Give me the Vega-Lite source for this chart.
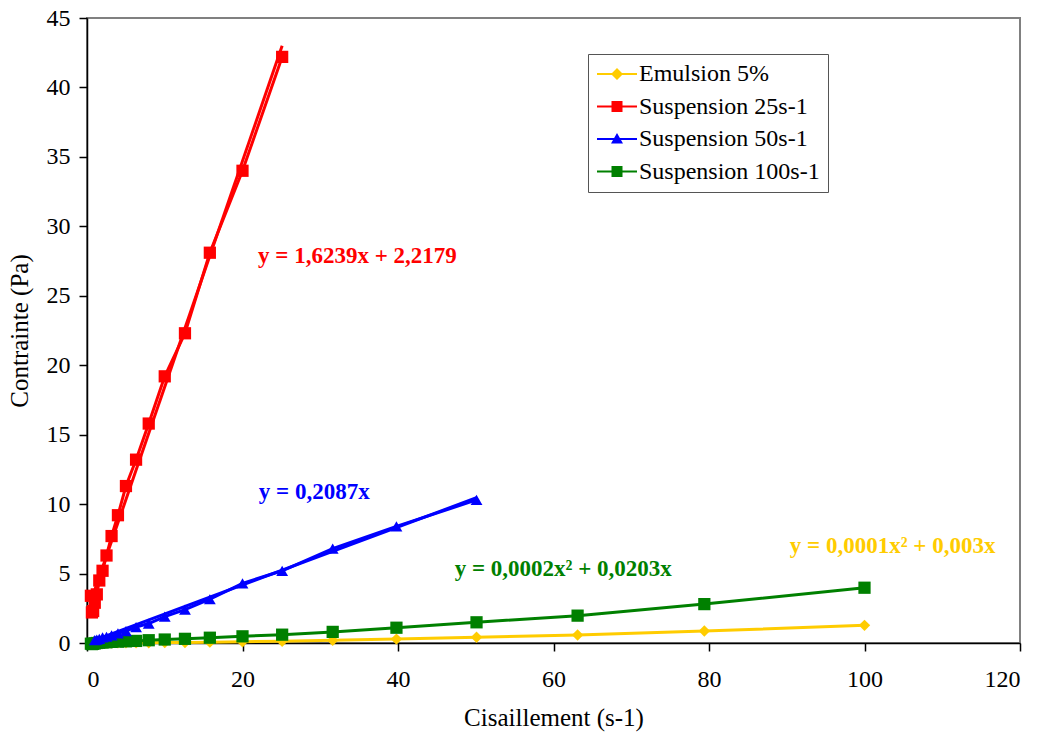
{
  "$schema": "https://vega.github.io/schema/vega-lite/v6.json",
  "width": 933,
  "height": 625,
  "autosize": "none",
  "padding": {"left": 87, "top": 18, "right": 25, "bottom": 93},
  "background": "white",
  "config": {
    "font": "Liberation Serif",
    "view": {"stroke": "#808080", "strokeWidth": 2},
    "axis": {
      "labelFont": "Liberation Serif",
      "titleFont": "Liberation Serif",
      "labelFontSize": 24,
      "titleFontSize": 25,
      "titleFontWeight": "normal",
      "labelColor": "#000",
      "titleColor": "#000",
      "domainColor": "#000",
      "domainWidth": 1.5,
      "tickColor": "#000",
      "tickWidth": 1.5,
      "tickSize": 8,
      "grid": false
    },
    "legend": {
      "title": null,
      "orient": "none",
      "legendX": 501,
      "legendY": 36,
      "fillColor": "white",
      "strokeColor": "#555",
      "padding": 8,
      "labelFont": "Liberation Serif",
      "labelFontSize": 24,
      "labelColor": "#000",
      "labelLimit": 400,
      "symbolSize": 400,
      "symbolOffset": 9,
      "labelOffset": 10,
      "rowPadding": 8.5,
      "symbolStrokeWidth": 0,
      "symbolOpacity": 1
    }
  },
  "datasets": {
    "pts": [
      {"serie": "Emulsion 5%", "kind": "data", "x": 1, "y": 0.0},
      {"serie": "Emulsion 5%", "kind": "data", "x": 1.26, "y": 0.0},
      {"serie": "Emulsion 5%", "kind": "data", "x": 1.58, "y": 0.0},
      {"serie": "Emulsion 5%", "kind": "data", "x": 2, "y": 0.0},
      {"serie": "Emulsion 5%", "kind": "data", "x": 2.51, "y": 0.01},
      {"serie": "Emulsion 5%", "kind": "data", "x": 3.16, "y": 0.01},
      {"serie": "Emulsion 5%", "kind": "data", "x": 3.98, "y": 0.01},
      {"serie": "Emulsion 5%", "kind": "data", "x": 5.01, "y": 0.02},
      {"serie": "Emulsion 5%", "kind": "data", "x": 6.31, "y": 0.02},
      {"serie": "Emulsion 5%", "kind": "data", "x": 7.94, "y": 0.02},
      {"serie": "Emulsion 5%", "kind": "data", "x": 10, "y": 0.03},
      {"serie": "Emulsion 5%", "kind": "data", "x": 12.6, "y": 0.04},
      {"serie": "Emulsion 5%", "kind": "data", "x": 15.8, "y": 0.06},
      {"serie": "Emulsion 5%", "kind": "data", "x": 20, "y": 0.09},
      {"serie": "Emulsion 5%", "kind": "data", "x": 25.1, "y": 0.13},
      {"serie": "Emulsion 5%", "kind": "data", "x": 31.6, "y": 0.2},
      {"serie": "Emulsion 5%", "kind": "data", "x": 39.8, "y": 0.28},
      {"serie": "Emulsion 5%", "kind": "data", "x": 50.1, "y": 0.41},
      {"serie": "Emulsion 5%", "kind": "data", "x": 63.1, "y": 0.58},
      {"serie": "Emulsion 5%", "kind": "data", "x": 79.4, "y": 0.86},
      {"serie": "Emulsion 5%", "kind": "data", "x": 100, "y": 1.27},

      {"serie": "Suspension 25s-1", "kind": "data", "x": 0.5, "y": 3.4},
      {"serie": "Suspension 25s-1", "kind": "data", "x": 0.63, "y": 2.2},
      {"serie": "Suspension 25s-1", "kind": "data", "x": 0.79, "y": 2.3},
      {"serie": "Suspension 25s-1", "kind": "data", "x": 1, "y": 2.9},
      {"serie": "Suspension 25s-1", "kind": "data", "x": 1.26, "y": 3.5},
      {"serie": "Suspension 25s-1", "kind": "data", "x": 1.58, "y": 4.5},
      {"serie": "Suspension 25s-1", "kind": "data", "x": 2, "y": 5.2},
      {"serie": "Suspension 25s-1", "kind": "data", "x": 2.51, "y": 6.3},
      {"serie": "Suspension 25s-1", "kind": "data", "x": 3.16, "y": 7.7},
      {"serie": "Suspension 25s-1", "kind": "data", "x": 3.98, "y": 9.2},
      {"serie": "Suspension 25s-1", "kind": "data", "x": 5.01, "y": 11.3},
      {"serie": "Suspension 25s-1", "kind": "data", "x": 6.31, "y": 13.2},
      {"serie": "Suspension 25s-1", "kind": "data", "x": 7.94, "y": 15.8},
      {"serie": "Suspension 25s-1", "kind": "data", "x": 10, "y": 19.2},
      {"serie": "Suspension 25s-1", "kind": "data", "x": 12.6, "y": 22.3},
      {"serie": "Suspension 25s-1", "kind": "data", "x": 15.8, "y": 28.1},
      {"serie": "Suspension 25s-1", "kind": "data", "x": 20, "y": 34.0},
      {"serie": "Suspension 25s-1", "kind": "data", "x": 25.1, "y": 42.2},
      {"serie": "Suspension 25s-1", "kind": "trend", "x": 0.5, "y": 3.0},
      {"serie": "Suspension 25s-1", "kind": "trend", "x": 25.1, "y": 43.0},

      {"serie": "Suspension 50s-1", "kind": "data", "x": 1, "y": 0.2},
      {"serie": "Suspension 50s-1", "kind": "data", "x": 1.26, "y": 0.25},
      {"serie": "Suspension 50s-1", "kind": "data", "x": 1.58, "y": 0.3},
      {"serie": "Suspension 50s-1", "kind": "data", "x": 2, "y": 0.4},
      {"serie": "Suspension 50s-1", "kind": "data", "x": 2.51, "y": 0.45},
      {"serie": "Suspension 50s-1", "kind": "data", "x": 3.16, "y": 0.55},
      {"serie": "Suspension 50s-1", "kind": "data", "x": 3.98, "y": 0.7},
      {"serie": "Suspension 50s-1", "kind": "data", "x": 5.01, "y": 0.85},
      {"serie": "Suspension 50s-1", "kind": "data", "x": 6.31, "y": 1.15},
      {"serie": "Suspension 50s-1", "kind": "data", "x": 7.94, "y": 1.4},
      {"serie": "Suspension 50s-1", "kind": "data", "x": 10, "y": 1.9},
      {"serie": "Suspension 50s-1", "kind": "data", "x": 12.6, "y": 2.4},
      {"serie": "Suspension 50s-1", "kind": "data", "x": 15.8, "y": 3.15},
      {"serie": "Suspension 50s-1", "kind": "data", "x": 20, "y": 4.3},
      {"serie": "Suspension 50s-1", "kind": "data", "x": 25.1, "y": 5.2},
      {"serie": "Suspension 50s-1", "kind": "data", "x": 31.6, "y": 6.8},
      {"serie": "Suspension 50s-1", "kind": "data", "x": 39.8, "y": 8.4},
      {"serie": "Suspension 50s-1", "kind": "data", "x": 50.1, "y": 10.3},
      {"serie": "Suspension 50s-1", "kind": "trend", "x": 1, "y": 0.21},
      {"serie": "Suspension 50s-1", "kind": "trend", "x": 50.1, "y": 10.46},

      {"serie": "Suspension 100s-1", "kind": "data", "x": 0.5, "y": -0.05},
      {"serie": "Suspension 100s-1", "kind": "data", "x": 0.63, "y": -0.08},
      {"serie": "Suspension 100s-1", "kind": "data", "x": 0.79, "y": -0.06},
      {"serie": "Suspension 100s-1", "kind": "data", "x": 1, "y": -0.03},
      {"serie": "Suspension 100s-1", "kind": "data", "x": 1.26, "y": 0.0},
      {"serie": "Suspension 100s-1", "kind": "data", "x": 1.58, "y": 0.02},
      {"serie": "Suspension 100s-1", "kind": "data", "x": 2, "y": 0.04},
      {"serie": "Suspension 100s-1", "kind": "data", "x": 2.51, "y": 0.05},
      {"serie": "Suspension 100s-1", "kind": "data", "x": 3.16, "y": 0.08},
      {"serie": "Suspension 100s-1", "kind": "data", "x": 3.98, "y": 0.1},
      {"serie": "Suspension 100s-1", "kind": "data", "x": 5.01, "y": 0.12},
      {"serie": "Suspension 100s-1", "kind": "data", "x": 6.31, "y": 0.15},
      {"serie": "Suspension 100s-1", "kind": "data", "x": 7.94, "y": 0.2},
      {"serie": "Suspension 100s-1", "kind": "data", "x": 10, "y": 0.25},
      {"serie": "Suspension 100s-1", "kind": "data", "x": 12.6, "y": 0.3},
      {"serie": "Suspension 100s-1", "kind": "data", "x": 15.8, "y": 0.38},
      {"serie": "Suspension 100s-1", "kind": "data", "x": 20, "y": 0.48},
      {"serie": "Suspension 100s-1", "kind": "data", "x": 25.1, "y": 0.6},
      {"serie": "Suspension 100s-1", "kind": "data", "x": 31.6, "y": 0.8},
      {"serie": "Suspension 100s-1", "kind": "data", "x": 39.8, "y": 1.1},
      {"serie": "Suspension 100s-1", "kind": "data", "x": 50.1, "y": 1.49},
      {"serie": "Suspension 100s-1", "kind": "data", "x": 63.1, "y": 1.97},
      {"serie": "Suspension 100s-1", "kind": "data", "x": 79.4, "y": 2.8},
      {"serie": "Suspension 100s-1", "kind": "data", "x": 100, "y": 3.98}
    ],
    "labels": [
      {"serie": "Suspension 25s-1", "x": 22.0, "y": 27.9, "label": "y = 1,6239x + 2,2179"},
      {"serie": "Suspension 50s-1", "x": 22.1, "y": 10.9, "label": "y = 0,2087x"},
      {"serie": "Suspension 100s-1", "x": 47.3, "y": 5.3, "label": "y = 0,0002x² + 0,0203x"},
      {"serie": "Emulsion 5%", "x": 90.4, "y": 7.0, "label": "y = 0,0001x² + 0,003x"}
    ]
  },
  "encoding": {
    "x": {
      "field": "x", "type": "quantitative",
      "scale": {"domain": [0, 120], "nice": false, "zero": false},
      "axis": {"values": [0, 20, 40, 60, 80, 100, 120], "title": "Cisaillement (s-1)", "labelPadding": 16, "titlePadding": 14}
    },
    "y": {
      "field": "y", "type": "quantitative",
      "scale": {"domain": [0, 45], "nice": false, "zero": false},
      "axis": {"values": [0, 5, 10, 15, 20, 25, 30, 35, 40, 45], "title": "Contrainte (Pa)", "labelPadding": 9, "titlePadding": 14}
    },
    "color": {
      "field": "serie", "type": "nominal",
      "scale": {
        "domain": ["Emulsion 5%", "Suspension 25s-1", "Suspension 50s-1", "Suspension 100s-1"],
        "range": ["#FFCC00", "#FF0000", "#0000FF", "#008000"]
      }
    }
  },
  "layer": [
    {
      "data": {"name": "pts"},
      "transform": [{"filter": "false"}],
      "mark": {"type": "point", "filled": true, "opacity": 1, "size": 400},
      "encoding": {
        "shape": {
          "field": "serie", "type": "nominal",
          "scale": {
            "domain": ["Emulsion 5%", "Suspension 25s-1", "Suspension 50s-1", "Suspension 100s-1"],
            "range": [
              "M-2,-0.1L2,-0.1L2,0.1L-2,0.1ZM0,-0.6L0.6,0L0,0.6L-0.6,0Z",
              "M-2,-0.1L2,-0.1L2,0.1L-2,0.1ZM-0.55,-0.55L0.55,-0.55L0.55,0.55L-0.55,0.55Z",
              "M-2,-0.1L2,-0.1L2,0.1L-2,0.1ZM0,-0.6L0.6,0.45L-0.6,0.45Z",
              "M-2,-0.1L2,-0.1L2,0.1L-2,0.1ZM-0.55,-0.55L0.55,-0.55L0.55,0.55L-0.55,0.55Z"
            ]
          }
        }
      }
    },
    {
      "data": {"name": "pts"},
      "transform": [{"filter": "datum.kind === 'data'"}],
      "mark": {"type": "line", "strokeWidth": 3, "clip": false},
      "encoding": {"detail": {"field": "serie"}}
    },
    {
      "data": {"name": "pts"},
      "transform": [{"filter": "datum.kind === 'trend'"}],
      "mark": {"type": "line", "strokeWidth": 3, "clip": false},
      "encoding": {"detail": {"field": "serie"}}
    },
    {
      "data": {"name": "pts"},
      "transform": [{"filter": "datum.kind === 'data' && datum.serie === 'Emulsion 5%'"}],
      "mark": {"type": "point", "shape": "diamond", "filled": true, "opacity": 1, "size": 130, "strokeWidth": 0, "clip": false},
      "encoding": {}
    },
    {
      "data": {"name": "pts"},
      "transform": [{"filter": "datum.kind === 'data' && (datum.serie === 'Suspension 25s-1' || datum.serie === 'Suspension 100s-1')"}],
      "mark": {"type": "point", "shape": "square", "filled": true, "opacity": 1, "size": 150, "strokeWidth": 0, "clip": false},
      "encoding": {}
    },
    {
      "data": {"name": "pts"},
      "transform": [{"filter": "datum.kind === 'data' && datum.serie === 'Suspension 50s-1'"}],
      "mark": {"type": "point", "shape": "triangle-up", "filled": true, "opacity": 1, "size": 140, "strokeWidth": 0, "clip": false},
      "encoding": {}
    },
    {
      "data": {"name": "labels"},
      "mark": {"type": "text", "align": "left", "baseline": "middle", "font": "Liberation Serif", "fontWeight": "bold", "fontSize": 23},
      "encoding": {
        "text": {"field": "label"}
      }
    }
  ]
}
